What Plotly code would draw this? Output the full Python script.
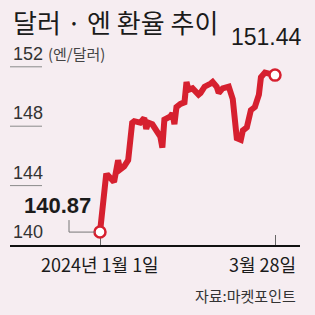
import plotly.graph_objects as go
import pandas as pd

# ---- data ----
dates = ["2024-01-01", "2024-01-04", "2024-01-05", "2024-01-08", "2024-01-10", "2024-01-11",
         "2024-01-13", "2024-01-15", "2024-01-17", "2024-01-18", "2024-01-21", "2024-01-23",
         "2024-01-24", "2024-01-25", "2024-01-27", "2024-01-30", "2024-01-31", "2024-02-01",
         "2024-02-02", "2024-02-05", "2024-02-06", "2024-02-07", "2024-02-08", "2024-02-10",
         "2024-02-12", "2024-02-13", "2024-02-14", "2024-02-16", "2024-02-19", "2024-02-20",
         "2024-02-22", "2024-02-25", "2024-02-26", "2024-02-28", "2024-02-29", "2024-03-02",
         "2024-03-04", "2024-03-05", "2024-03-07", "2024-03-08", "2024-03-09", "2024-03-11",
         "2024-03-12", "2024-03-14", "2024-03-16", "2024-03-18", "2024-03-20", "2024-03-21",
         "2024-03-23", "2024-03-28"]
values = [140.87, 144.66, 144.68, 144.24, 145.71, 145.08,
          145.29, 145.71, 148.23, 148.34, 148.24, 148.55,
          147.82, 148.24, 148.13, 147.60, 147.29, 146.56,
          148.45, 148.66, 148.87, 148.13, 149.29, 149.50,
          149.61, 150.98, 150.45, 150.55, 150.13, 150.24,
          150.66, 150.87, 150.98, 150.66, 150.24, 150.55,
          150.66, 150.66, 149.82, 148.34, 147.19, 147.08,
          147.71, 147.92, 149.08, 149.29, 150.13, 151.29,
          151.61, 151.44]

y_tick_values = [140, 144, 148, 152]
y_tick_labels = ["140", "144", "148", "152"]
unit_label = "(엔/달러)"
x_tick_dates = ["2024-01-01", "2024-03-28"]
x_tick_labels = ["2024년 1월 1일", "3월 28일"]
title_text = "달러 · 엔 환율 추이"
source_text = "자료:마켓포인트"
start_label = "140.87"
end_label = "151.44"

# ---- layout geometry ----
W = H = 315
L, R, T, B = 10, 15, 40, 70
PW, PH = W - L - R, H - T - B
px_per_unit = 14.85
y_lo = 140
y_hi = y_lo + PH / px_per_unit
day_px = 175 / 87
start = pd.Timestamp(x_tick_dates[0])
x_lo = start - pd.Timedelta(days=(100 - L) / day_px)
x_hi = start + pd.Timedelta(days=(W - R - 100) / day_px)


def px(x):
    return (x - L) / PW


def py(y):
    return (H - B - y) / PH


BG = "#f6edf1"
RED = "#d6202f"
KR = "Noto Sans CJK KR"
NUM = "Liberation Sans, Arial"

fig = go.Figure()
fig.add_trace(go.Scatter(x=dates, y=values, mode="lines",
                         line=dict(color=RED, width=6), hoverinfo="skip"))
fig.add_trace(go.Scatter(x=[dates[0], dates[-1]], y=[values[0], values[-1]], mode="markers",
                         marker=dict(size=11, color="white", line=dict(color=RED, width=2.5)),
                         hoverinfo="skip", cliponaxis=False))

ann = []
ann.append(dict(text=title_text, x=px(11), y=py(22), xref="paper", yref="paper",
                xanchor="left", yanchor="middle", showarrow=False,
                font=dict(family=KR, size=26, color="#1b1b1b")))
ann.append(dict(text=end_label, x=px(304), y=py(37), xref="paper", yref="paper",
                xanchor="right", yanchor="middle", showarrow=False,
                font=dict(family=NUM, size=23, color="#1b1b1b")))
ann.append(dict(text="<b>" + start_label + "</b>", x=px(93), y=py(205), xref="paper", yref="paper",
                xanchor="right", yanchor="middle", showarrow=False,
                font=dict(family=NUM, size=22, color="#1b1b1b")))
for v, t in zip(y_tick_values, y_tick_labels):
    ann.append(dict(text=t, x=px(11), y=v, xref="paper", yref="y",
                    xanchor="left", yanchor="bottom", yshift=1, showarrow=False,
                    font=dict(family=NUM, size=18, color="#333333")))
ann.append(dict(text=unit_label, x=px(46), y=y_tick_values[-1], xref="paper", yref="y",
                xanchor="left", yanchor="bottom", yshift=1, showarrow=False,
                font=dict(family=KR, size=15, color="#444444")))
ann.append(dict(text=x_tick_labels[0], x=x_tick_dates[0], y=py(264), xref="x", yref="paper",
                xanchor="center", yanchor="middle", showarrow=False,
                font=dict(family=KR, size=18, color="#1b1b1b")))
ann.append(dict(text=x_tick_labels[1], x=px(298), y=py(264), xref="paper", yref="paper",
                xanchor="right", yanchor="middle", showarrow=False,
                font=dict(family=KR, size=18, color="#1b1b1b")))
ann.append(dict(text=source_text, x=px(298), y=py(295), xref="paper", yref="paper",
                xanchor="right", yanchor="middle", showarrow=False,
                font=dict(family=KR, size=15, color="#333333")))

shapes = []
for v in y_tick_values[1:]:
    shapes.append(dict(type="line", xref="paper", yref="y", x0=px(10), x1=px(42), y0=v, y1=v,
                       line=dict(color="#8a8a8a", width=1)))
# leader line to start label
shapes.append(dict(type="line", xref="paper", yref="y", x0=px(69), x1=px(69),
                   y0=values[0] + 12 / px_per_unit, y1=values[0], line=dict(color="#777777", width=1)))
shapes.append(dict(type="line", xref="paper", yref="y", x0=px(69), x1=px(95),
                   y0=values[0], y1=values[0], line=dict(color="#777777", width=1)))

fig.update_layout(
    width=W, height=H, margin=dict(l=L, r=R, t=T, b=B),
    paper_bgcolor=BG, plot_bgcolor=BG, showlegend=False,
    annotations=ann, shapes=shapes,
    xaxis=dict(type="date", range=[x_lo, x_hi], showgrid=False, zeroline=False,
               showline=True, linecolor="#111111", linewidth=1.5,
               tickvals=x_tick_dates, ticks="inside", ticklen=10, tickcolor="#666666",
               tickwidth=1, showticklabels=False, layer="below traces", fixedrange=True),
    yaxis=dict(range=[y_lo, y_hi], showgrid=False, zeroline=False, showline=False,
               showticklabels=False, ticks="", fixedrange=True),
)
fig.write_html("out.html")
